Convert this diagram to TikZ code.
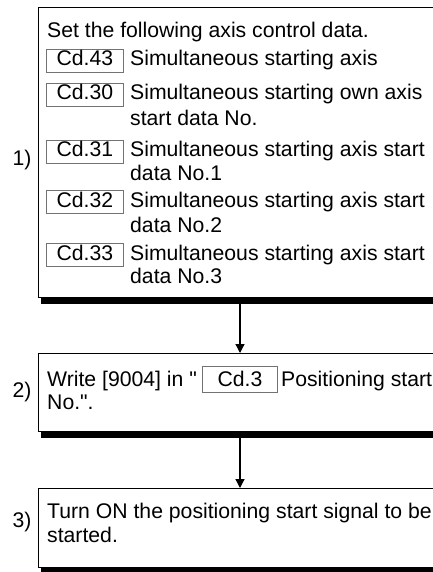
\documentclass[tikz,border=0pt]{standalone}
\usepackage{fontspec}
\newfontfamily\lsans{Liberation Sans}
\usetikzlibrary{arrows.meta}
\begin{document}
\begin{tikzpicture}[x=1pt,y=-1pt,
  txt/.style={anchor=base west,inner sep=0pt,font=\lsans\fontsize{21.2}{24}\selectfont},
  lbl/.style={anchor=center,inner sep=0pt,font=\lsans\fontsize{21.2}{24}\selectfont},
  stepbox/.style={draw=black,line width=1pt,anchor=north west,inner sep=0pt,minimum width=420pt},
  shadowfill/.style={fill=black,draw=none},
  cdbox/.style={draw=black!55,line width=0.8pt,anchor=base west,minimum width=77pt,text height=17pt,text depth=6.5pt,inner ysep=0pt,inner xsep=0pt,font=\lsans\fontsize{21.2}{24}\selectfont},
  arr/.style={line width=1.3pt,-{Triangle[length=9pt,width=9pt]}}]
\useasboundingbox (0,0) rectangle (433,572);
\clip (0,0) rectangle (433,572);
% boxes
\node[stepbox,minimum height=290pt] (b1) at (38,7) {};
\node[stepbox,minimum height=78pt] (b2) at (38,353) {};
\node[stepbox,minimum height=79pt] (b3) at (38,488) {};
\foreach \b in {b1,b2,b3}{
  \fill[shadowfill] ([xshift=3pt]\b.south west) rectangle ([yshift=-6pt,xshift=3pt]\b.south east);
}
% labels
\node[lbl] (l1) at (22,160) {1)};
\node[lbl] (l2) at (22,392) {2)};
\node[lbl] (l3) at (22,522) {3)};
% box 1 text
\node[txt] (t0) at (47,38) {Set the following axis control data.};
\node[cdbox] (c43) at (46,66) {Cd.43};
\node[txt] (t43) at (130,66) {Simultaneous starting axis};
\node[cdbox] (c30) at (46,100) {Cd.30};
\node[txt] (t30a) at (130,100) {Simultaneous starting own axis};
\node[txt] (t30b) at (130,126) {start data No.};
\node[cdbox] (c31) at (46,157) {Cd.31};
\node[txt] (t31a) at (130,157) {Simultaneous starting axis start};
\node[txt] (t31b) at (130,180) {data No.1};
\node[cdbox] (c32) at (46,207) {Cd.32};
\node[txt] (t32a) at (130,207) {Simultaneous starting axis start};
\node[txt] (t32b) at (130,232) {data No.2};
\node[cdbox] (c33) at (46,260) {Cd.33};
\node[txt] (t33a) at (130,260) {Simultaneous starting axis start};
\node[txt] (t33b) at (130,283) {data No.3};
% box 2 text
\node[txt] (w1) at (47,386) {Write [9004] in "};
\node[cdbox,minimum width=75pt,text height=20pt,text depth=6pt] (c3) at (202,386) {Cd.3};
\node[txt] (w2) at (281,386) {Positioning start};
\node[txt] (w3) at (47,409) {No.".};
% box 3 text
\node[txt] (s1) at (47,518) {Turn ON the positioning start signal to be};
\node[txt] (s2) at (47,542) {started.};
% connectors
\coordinate (a1) at (240,303);
\coordinate (a2) at (240,438);
\draw[arr] (a1) -- (b2.north -| a1);
\draw[arr] (a2) -- (b3.north -| a2);
\end{tikzpicture}
\end{document}
